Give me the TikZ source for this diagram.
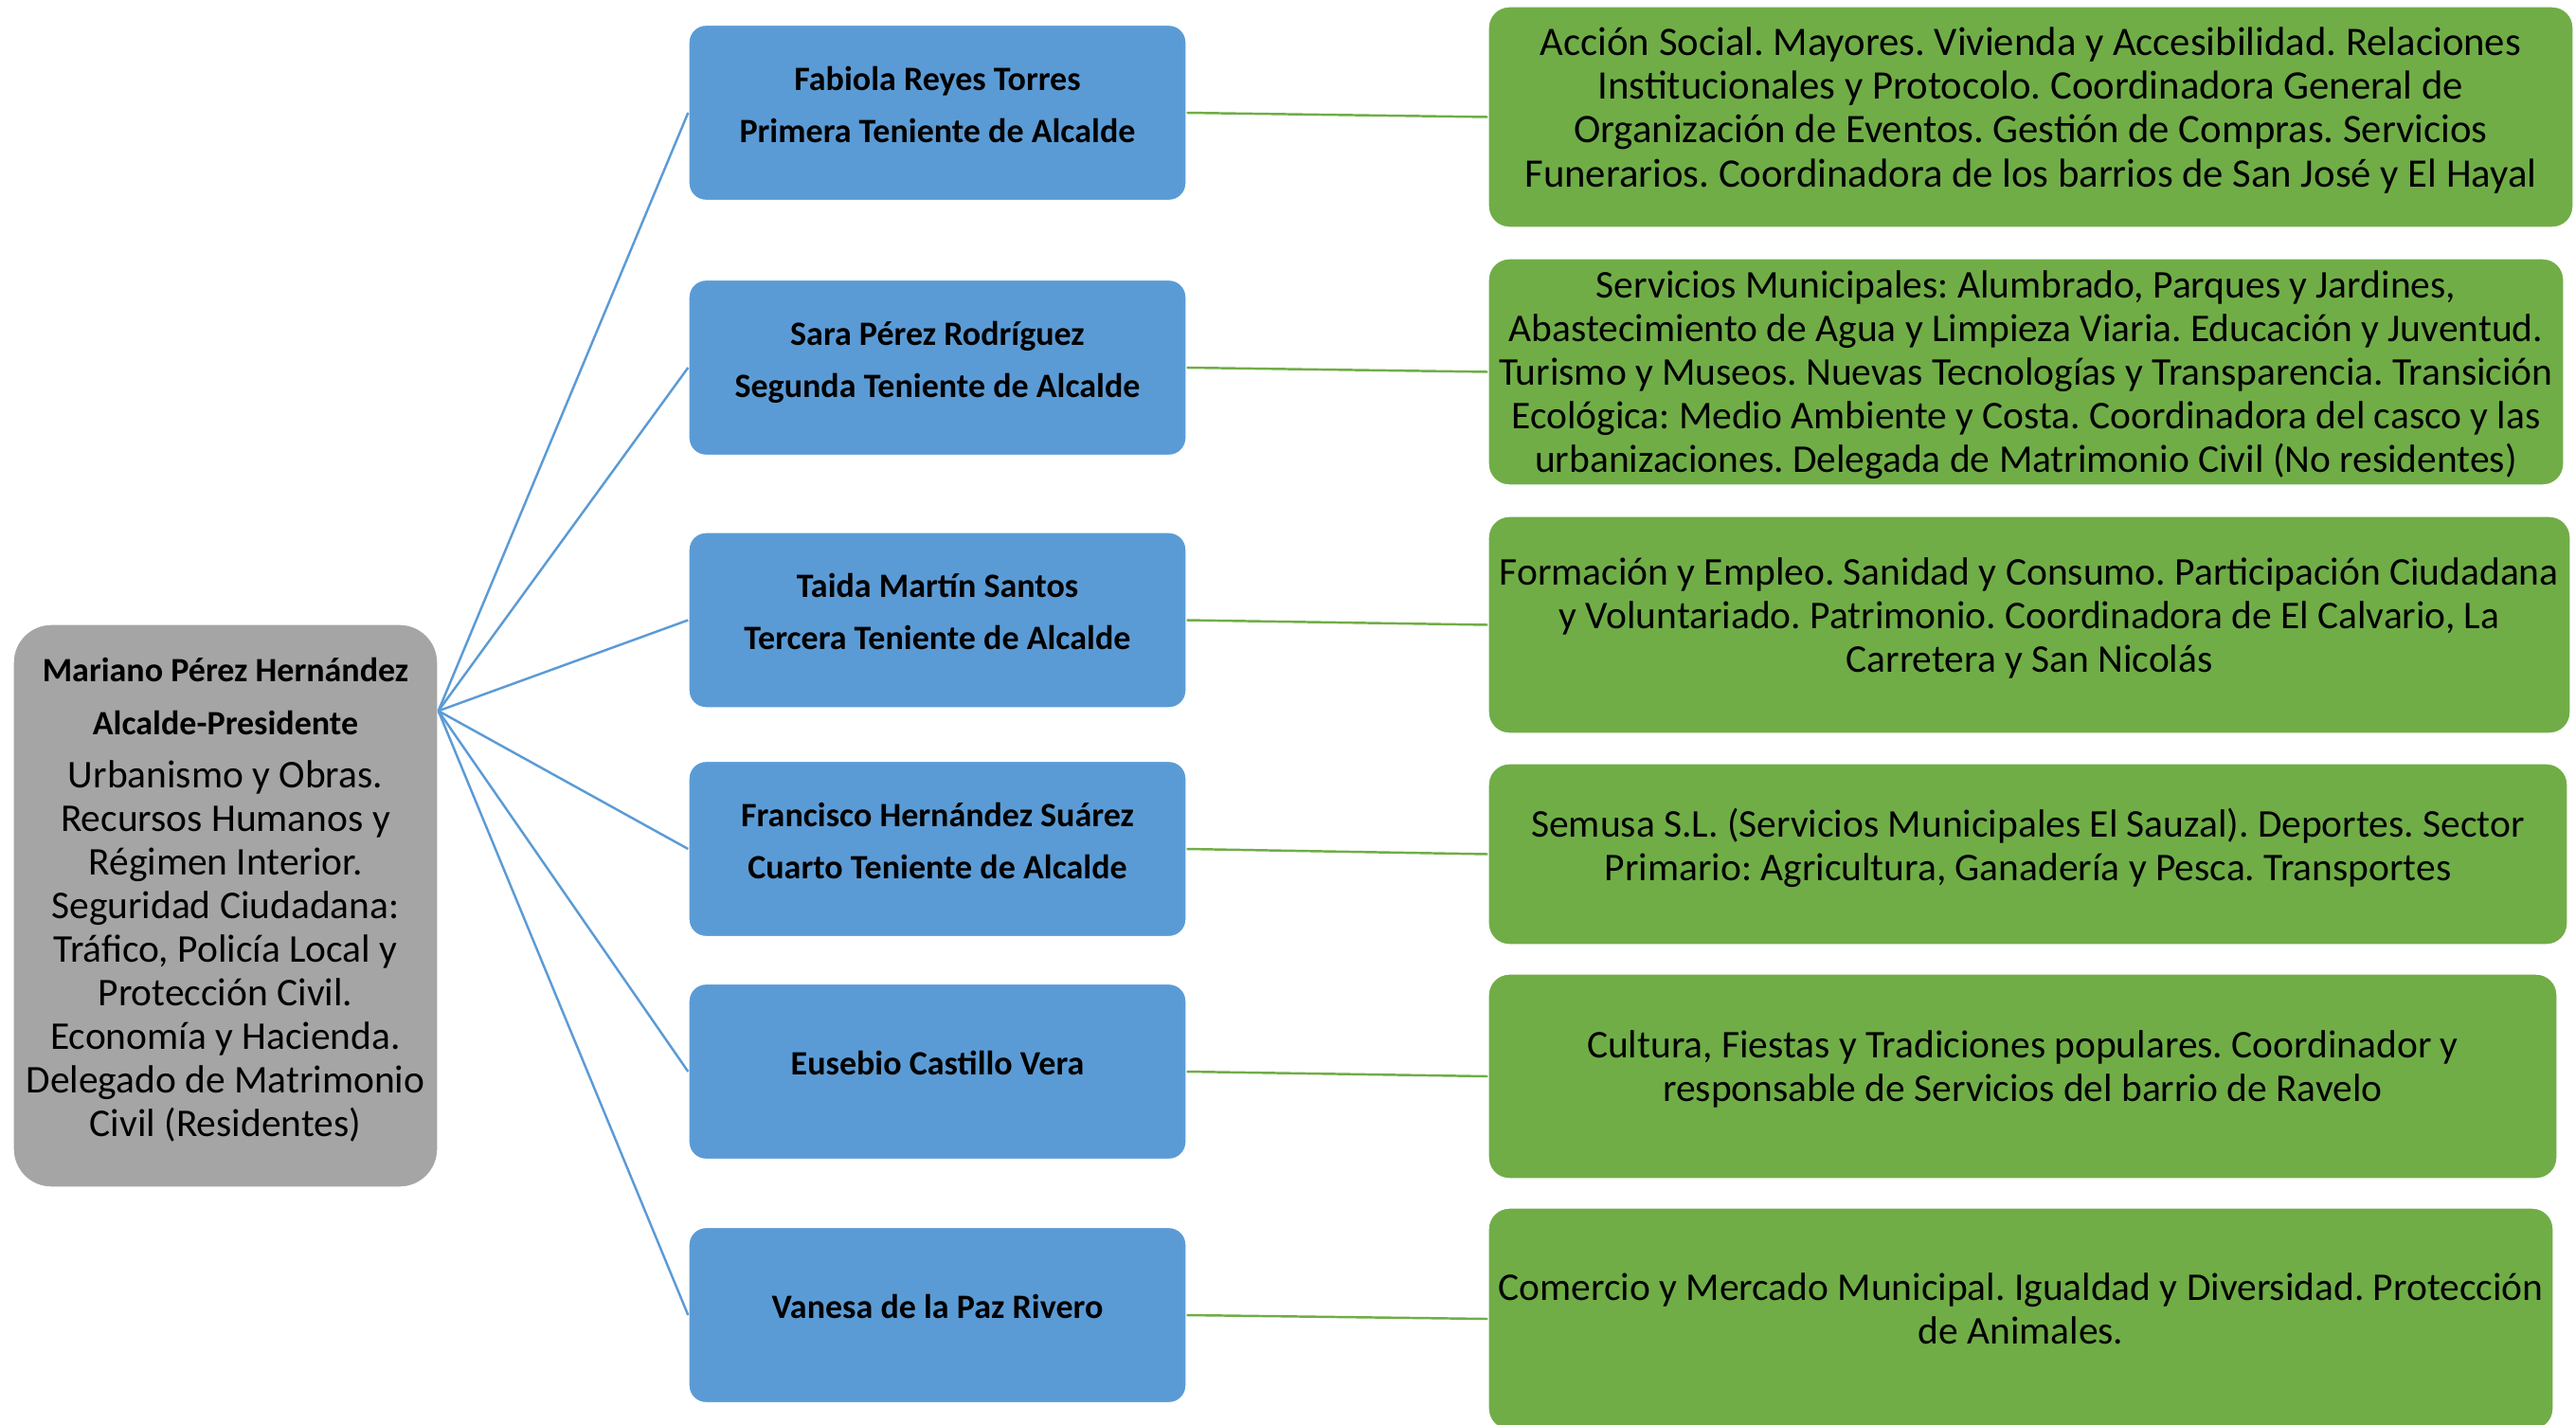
\documentclass[tikz,border=0pt]{standalone}
\usepackage{fontspec}
\setmainfont{Carlito}
\frenchspacing

\definecolor{grisalc}{HTML}{A5A5A5}
\definecolor{azulten}{HTML}{5B9BD5}
\definecolor{verdearea}{HTML}{70AD47}

\begin{document}
\begin{tikzpicture}[
alc/.style={
  draw=white,
  fill=grisalc,
  rounded corners=0.4cm,
  align=center,
  inner sep=0pt,
  text depth=5pt,
  minimum width=4.48cm,
  minimum height=5.94cm,
  font=\fontsize{11.8}{13.1}\selectfont
},
teni/.style={
  draw=white,
  fill=azulten,
  rounded corners=0.18cm,
  align=center,
  inner sep=0pt,
  text depth=5pt,
  minimum width=5.25cm,
  minimum height=1.85cm,
  font=\fontsize{10.25}{13.1}\selectfont\bfseries
},
area/.style={
  draw=white,
  fill=verdearea,
  rounded corners=0.22cm,
  align=center,
  inner sep=0pt,
  text depth=6pt,
  font=\fontsize{11.8}{13.1}\selectfont
},
rama/.style={azulten, line width=0.7pt},
enlace/.style={verdearea, line width=0.7pt}
]
\useasboundingbox (0,0) rectangle (27.19,-15.04);

% alcalde
\node[alc] (alc) at (2.38,-9.56)
  {\fontsize{10.25}{13.1}\selectfont\textbf{Mariano Pérez Hernández}\\[2.6pt]
   \fontsize{10.25}{13.1}\selectfont\textbf{Alcalde-Presidente}\\[3pt]
   Urbanismo y Obras.\\Recursos Humanos y\\Régimen Interior.\\
   Seguridad Ciudadana:\\Tráfico, Policía Local y\\Protección Civil.\\
   Economía y Hacienda.\\Delegado de Matrimonio\\Civil (Residentes)};
\coordinate (fan) at ([yshift=-0.92cm]alc.north east);

% tenientes de alcalde y concejales
\node[teni] (t1) at (9.895,-1.19)
  {Fabiola Reyes Torres\\[2.6pt]Primera Teniente de Alcalde};
\node[teni] (t2) at (9.895,-3.88)
  {Sara Pérez Rodríguez\\[2.6pt]Segunda Teniente de Alcalde};
\node[teni] (t3) at (9.895,-6.545)
  {Taida Martín Santos\\[2.6pt]Tercera Teniente de Alcalde};
\node[teni] (t4) at (9.895,-8.96)
  {Francisco Hernández Suárez\\[2.6pt]Cuarto Teniente de Alcalde};
\node[teni] (t5) at (9.895,-11.31)
  {Eusebio Castillo Vera};
\node[teni] (t6) at (9.895,-13.88)
  {Vanesa de la Paz Rivero};

% areas
\node[area,minimum width=11.45cm,minimum height=2.33cm,
  font=\fontsize{12.15}{13.2}\selectfont] (a1) at (21.435,-1.235)
  {Acción Social. Mayores. Vivienda y Accesibilidad. Relaciones\\
   Institucionales y Protocolo. Coordinadora General de\\
   Organización de Eventos. Gestión de Compras. Servicios\\
   Funerarios. Coordinadora de los barrios de San José y El Hayal};
\node[area,minimum width=11.35cm,minimum height=2.39cm,
  text depth=-1pt] (a2) at (21.385,-3.925)
  {Servicios Municipales: Alumbrado, Parques y Jardines,\\
   Abastecimiento de Agua y Limpieza Viaria. Educación y Juventud.\\
   Turismo y Museos. Nuevas Tecnologías y Transparencia. Transición\\
   Ecológica: Medio Ambiente y Costa. Coordinadora del casco y las\\
   urbanizaciones. Delegada de Matrimonio Civil (No residentes)};
\node[area,minimum width=11.42cm,minimum height=2.29cm] (a3) at (21.42,-6.595)
  {Formación y Empleo. Sanidad y Consumo. Participación Ciudadana\\
   y Voluntariado. Patrimonio. Coordinadora de El Calvario, La\\
   Carretera y San Nicolás};
\node[area,minimum width=11.39cm,minimum height=1.91cm] (a4) at (21.405,-9.015)
  {Semusa S.L. (Servicios Municipales El Sauzal). Deportes. Sector\\
   Primario: Agricultura, Ganadería y Pesca. Transportes};
\node[area,minimum width=11.28cm,minimum height=2.16cm] (a5) at (21.35,-11.36)
  {Cultura, Fiestas y Tradiciones populares. Coordinador y\\
   responsable de Servicios del barrio de Ravelo};
\node[area,minimum width=11.24cm,minimum height=2.34cm] (a6) at (21.33,-13.92)
  {Comercio y Mercado Municipal. Igualdad y Diversidad. Protección\\
   de Animales.};

\draw[rama] (fan) -- (t1.west);
\draw[rama] (fan) -- (t2.west);
\draw[rama] (fan) -- (t3.west);
\draw[rama] (fan) -- (t4.west);
\draw[rama] (fan) -- (t5.west);
\draw[rama] (fan) -- (t6.west);

\draw[enlace] (t1.east) -- (a1.west);
\draw[enlace] (t2.east) -- (a2.west);
\draw[enlace] (t3.east) -- (a3.west);
\draw[enlace] (t4.east) -- (a4.west);
\draw[enlace] (t5.east) -- (a5.west);
\draw[enlace] (t6.east) -- (a6.west);
\end{tikzpicture}
\end{document}
